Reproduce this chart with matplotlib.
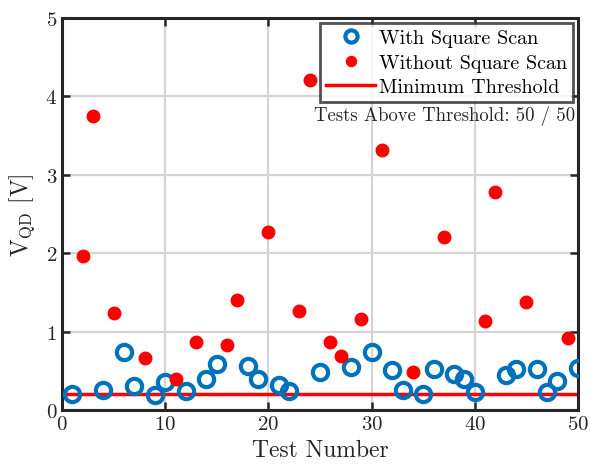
import matplotlib
matplotlib.use("Agg")
import matplotlib.pyplot as plt

plt.rcParams['font.family'] = 'serif'
plt.rcParams['font.serif'] = ['cmr10']
plt.rcParams['mathtext.fontset'] = 'cm'
plt.rcParams['axes.formatter.use_mathtext'] = True

with_tests = [1, 4, 6, 7, 9, 10, 12, 14, 15, 18, 19, 21, 22, 25, 28, 30, 32, 33, 35, 36,
              38, 39, 40, 43, 44, 46, 47, 48, 50]
with_vals = [0.20, 0.26, 0.74, 0.31, 0.19, 0.36, 0.24, 0.40, 0.59, 0.56, 0.40, 0.32, 0.24,
             0.48, 0.55, 0.74, 0.51, 0.26, 0.20, 0.52, 0.46, 0.40, 0.23, 0.45, 0.52, 0.52,
             0.23, 0.37, 0.54]
without_tests = [2, 3, 5, 8, 11, 13, 16, 17, 20, 23, 24, 26, 27, 29, 31, 34, 37, 41, 42, 45, 49]
without_vals = [1.96, 3.75, 1.24, 0.66, 0.40, 0.87, 0.83, 1.40, 2.27, 1.26, 4.21, 0.87, 0.69,
                1.16, 3.31, 0.48, 2.21, 1.14, 2.78, 1.38, 0.92]
threshold = 0.2
x_ticks = [0, 10, 20, 30, 40, 50]
y_ticks = [0, 1, 2, 3, 4, 5]

fig = plt.figure(figsize=(5.91, 4.77), dpi=100)
ax = fig.add_axes([62/591, 1-411/477, (578-62)/591, (411-19)/477])

ax.plot(with_tests, with_vals, 'o', ms=11, mfc='none', mec='#0072BD', mew=3,
        label='With Square Scan', zorder=3)
ax.plot(without_tests, without_vals, 'o', ms=9, mfc='#FF0000', mec='#FF0000',
        label='Without Square Scan', zorder=3)
ax.plot([0, 50], [threshold, threshold], '-', color='#FF0000', lw=2.5,
        label='Minimum Threshold', zorder=2)

ax.set_xlim(0, 50)
ax.set_ylim(0, 5)
ax.set_xticks(x_ticks)
ax.set_yticks(y_ticks)
ax.grid(True, color='#d4d4d4', lw=1.6)
ax.set_axisbelow(True)
ax.tick_params(direction='in', length=6, width=1.8, labelsize=15, colors='#262626',
               top=True, right=True)
for s in ax.spines.values():
    s.set_linewidth(2.2)
    s.set_color('#262626')

ax.set_xlabel('Test Number', fontsize=17, color='#262626', labelpad=4)
ax.set_ylabel(r'$\mathrm{V}_{\mathrm{QD}}$ [V]', fontsize=17, color='#262626', labelpad=6)

leg = ax.legend(loc='upper right', fontsize=14.5, frameon=True, fancybox=False,
                edgecolor='#262626', borderaxespad=0.25, handlelength=2.4,
                handletextpad=0.2, borderpad=0.3, labelspacing=0.32, markerscale=0.8)
leg.get_frame().set_linewidth(2)

ax.text(0.995, 0.752, 'Tests Above Threshold: 50 / 50', transform=ax.transAxes,
        ha='right', va='center', fontsize=13.5, color='#262626')

fig.savefig('out.png', dpi=100)
